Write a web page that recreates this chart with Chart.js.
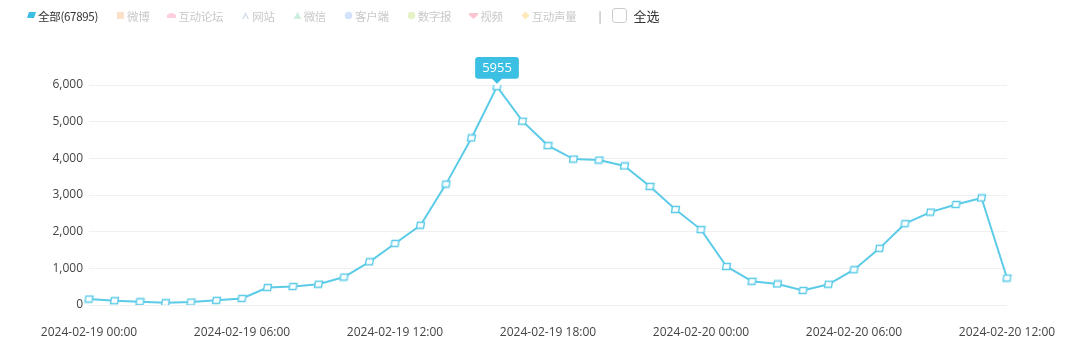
<!DOCTYPE html>
<html lang="zh">
<head>
    <meta charset="UTF-8">
    <title>声量趋势</title>
    <script src="https://cdn.jsdelivr.net/npm/chart.js"></script>
    <style>
        body { margin: 0; background: #fff; font-family: "Noto Sans CJK SC", "Open Sans", sans-serif; }
        #wrap { position: relative; width: 1080px; height: 347px; }
        #legend { position: absolute; left: 27px; top: 6px; display: flex; align-items: center; font-size: 11.5px; color: #c9c9c9; }
        .item { display: flex; align-items: center; margin-right: 18px; white-space: nowrap; }
        .item svg { margin-right: 2px; }
        .item.on { color: #333; }
        .num { font-family: "Noto Sans CJK SC", sans-serif; letter-spacing: -0.3px; }
        .sep { color: #999; margin: 0 10px 0 4px; }
        .box { width: 13px; height: 13px; border: 1px solid #ccc; border-radius: 3px; margin-right: 7px; }
        .all { color: #333; font-size: 13px; }
    </style>
</head>
<body>
<div id="wrap">
    <div id="legend"></div>
    <canvas id="trendChart" width="1080" height="347"></canvas>
</div>

<script>
    // hourly buckets
    var hours = [
        '2024-02-19 00:00', '2024-02-19 01:00', '2024-02-19 02:00', '2024-02-19 03:00',
        '2024-02-19 04:00', '2024-02-19 05:00', '2024-02-19 06:00', '2024-02-19 07:00',
        '2024-02-19 08:00', '2024-02-19 09:00', '2024-02-19 10:00', '2024-02-19 11:00',
        '2024-02-19 12:00', '2024-02-19 13:00', '2024-02-19 14:00', '2024-02-19 15:00',
        '2024-02-19 16:00', '2024-02-19 17:00', '2024-02-19 18:00', '2024-02-19 19:00',
        '2024-02-19 20:00', '2024-02-19 21:00', '2024-02-19 22:00', '2024-02-19 23:00',
        '2024-02-20 00:00', '2024-02-20 01:00', '2024-02-20 02:00', '2024-02-20 03:00',
        '2024-02-20 04:00', '2024-02-20 05:00', '2024-02-20 06:00', '2024-02-20 07:00',
        '2024-02-20 08:00', '2024-02-20 09:00', '2024-02-20 10:00', '2024-02-20 11:00',
        '2024-02-20 12:00'
    ];

    var allCounts = [
        162, 116, 89, 62, 81, 127, 180, 477, 504, 566, 763, 1178, 1679,
        2175, 3297, 4555, 5955, 5013, 4348, 3981, 3954, 3792, 3234, 2606,
        2057, 1051, 647, 574, 396, 566, 962, 1545, 2218, 2534, 2741, 2919, 736
    ];

    var channelNames = ['全部(67895)', '微博', '互动论坛', '网站', '微信', '客户端', '数字报', '视频', '互动声量'];
    var channelColors = ['#3bbfe2', '#fde0c8', '#fbd0dc', '#d3dbe8', '#cdeedd', '#d3e3fb', '#e6f2c8', '#fac6cf', '#fde8b8'];
    var channelIcons = ['para', 'square', 'roof', 'chevron', 'triangle', 'circle', 'circle', 'heart', 'diamond'];
    var peakIndex = 16;

    // legend (only 全部 is active)
    var iconSvg = {
        para: '<polygon points="2,1 9,1 7,7 0,7"/>',
        square: '<rect x="1" y="1" width="7" height="7"/>',
        roof: '<path d="M0,7 L0,4 Q4.5,0 9,4 L9,7 Z"/>',
        chevron: '<path d="M1,8 L4.5,1 L8,8 L6.5,8 L4.5,4 L2.5,8 Z"/>',
        triangle: '<polygon points="4.5,1 8.5,8 0.5,8"/>',
        circle: '<circle cx="4.5" cy="4.5" r="3.8"/>',
        heart: '<path d="M0,2 L9,2 L9,4 L4.5,8 L0,4 Z"/>',
        diamond: '<polygon points="4.5,0.5 8.5,4.5 4.5,8.5 0.5,4.5"/>'
    };
    var legend = document.getElementById('legend');
    var html = '';
    for (var i = 0; i < channelNames.length; i++) {
        html += '<span class="item' + (i === 0 ? ' on' : '') + '">' +
            '<svg width="9" height="9" viewBox="0 0 9 9" fill="' + channelColors[i] + '">' + iconSvg[channelIcons[i]] + '</svg>' +
            '<span class="num">' + channelNames[i] + '</span></span>';
    }
    html += '<span class="sep">|</span><span class="box"></span><span class="all">全选</span>';
    legend.innerHTML = html;

    // little tilted box for the markers
    var marker = document.createElement('canvas');
    marker.width = 11;
    marker.height = 9;
    var mctx = marker.getContext('2d');
    mctx.fillStyle = '#fff';
    mctx.strokeStyle = '#5ccbe8';
    mctx.lineWidth = 1.4;
    mctx.beginPath();
    mctx.moveTo(2.5, 1.5);
    mctx.lineTo(9.5, 1.5);
    mctx.lineTo(8.5, 7.5);
    mctx.lineTo(1.5, 7.5);
    mctx.closePath();
    mctx.fill();
    mctx.stroke();

    var ctx = document.getElementById('trendChart').getContext('2d');
    var trendChart = new Chart(ctx, {
        type: 'line',
        data: {
            labels: hours,
            datasets: [{
                label: '全部',
                data: allCounts,
                borderColor: '#5ccbe8',
                borderWidth: 2,
                pointStyle: marker,
                pointRadius: 4,
                pointHoverRadius: 4,
                tension: 0
            }]
        },
        options: {
            responsive: false,
            animation: false,
            events: [],
            layout: { padding: { top: 85, right: 73, left: 0, bottom: 0 } },
            plugins: {
                legend: { display: false },
                tooltip: {
                    enabled: true,
                    backgroundColor: '#3bbfe2',
                    bodyColor: '#fff',
                    bodyFont: { family: 'Open Sans', size: 13 },
                    padding: { left: 7, right: 7, top: 3, bottom: 3 },
                    cornerRadius: 3,
                    caretSize: 5,
                    caretPadding: 3,
                    displayColors: false,
                    xAlign: 'center',
                    yAlign: 'bottom',
                    callbacks: {
                        title: function() { return ''; },
                        label: function(item) { return String(item.raw); }
                    }
                }
            },
            scales: {
                x: {
                    grid: { display: false },
                    border: { display: false },
                    afterFit: function(scale) { scale.height = 42; },
                    ticks: {
                        autoSkip: false,
                        maxRotation: 0,
                        padding: 12,
                        color: '#444',
                        font: { family: 'Open Sans', size: 12 },
                        callback: function(v, idx) { return idx % 6 === 0 ? hours[idx] : ''; }
                    }
                },
                y: {
                    min: 0,
                    max: 6000,
                    grid: { color: '#f0f0f0', drawTicks: false },
                    border: { display: false },
                    afterFit: function(scale) { scale.width = 89; },
                    ticks: {
                        stepSize: 1000,
                        padding: 6,
                        color: '#444',
                        font: { family: 'Open Sans', size: 12 }
                    }
                }
            }
        }
    });

    var pk = trendChart.getDatasetMeta(0).data[peakIndex];
    trendChart.tooltip.setActiveElements([{ datasetIndex: 0, index: peakIndex }], { x: pk.x, y: pk.y });
    trendChart.update();
</script>
</body>
</html>
